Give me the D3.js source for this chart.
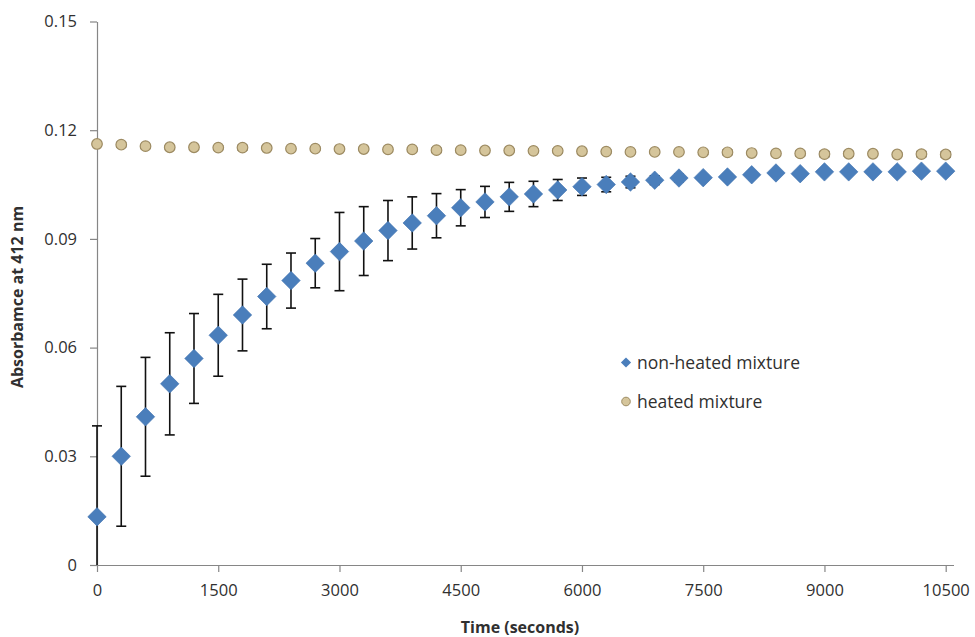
<!DOCTYPE html>
<html>
<head>
<meta charset="utf-8">
<script src="https://cdn.jsdelivr.net/npm/d3@7"></script>
<style>
  html, body { margin: 0; padding: 0; background: #fff; }
  svg { display: block; }
  text { font-family: "Open Sans", "Noto Sans", sans-serif; fill: #303030; }
</style>
</head>
<body>
<svg id="chart" width="975" height="637"></svg>
<script>
// Sampling times (seconds)
const times = [0, 300, 600, 900, 1200, 1500, 1800, 2100, 2400, 2700, 3000, 3300,
  3600, 3900, 4200, 4500, 4800, 5100, 5400, 5700, 6000, 6300, 6600, 6900,
  7200, 7500, 7800, 8100, 8400, 8700, 9000, 9300, 9600, 9900, 10200, 10500];

// Absorbance at 412 nm, non-heated mixture (mean and SD)
const nonHeated = [0.0133, 0.0300, 0.0409, 0.0500, 0.0570, 0.0634, 0.0690, 0.0741,
  0.0785, 0.0833, 0.0865, 0.0894, 0.0923, 0.0944, 0.0964, 0.0986, 0.1002, 0.1016,
  0.1024, 0.1035, 0.1044, 0.1050, 0.1057, 0.1062, 0.1068, 0.1069, 0.1071, 0.1077,
  0.1082, 0.1080, 0.1085, 0.1085, 0.1085, 0.1085, 0.1087, 0.1087];
const nonHeatedErr = [0.0251, 0.0193, 0.0164, 0.0141, 0.0124, 0.0113, 0.0099, 0.0089,
  0.0076, 0.0068, 0.0108, 0.0095, 0.0083, 0.0072, 0.0061, 0.0050, 0.0043, 0.0040,
  0.0035, 0.0029, 0.0024, 0.0020, 0.0016, 0.0012, 0.0010, 0.0008, 0.0008, 0.0007,
  0.0007, 0.0006, 0.0006, 0.0006, 0.0005, 0.0005, 0.0005, 0.0005];

// Absorbance at 412 nm, heated mixture (mean and SD)
const heated = [0.1162, 0.1160, 0.1156, 0.1153, 0.1153, 0.1152, 0.1152, 0.1151,
  0.1149, 0.1149, 0.1148, 0.1148, 0.1147, 0.1147, 0.1145, 0.1145, 0.1144, 0.1144,
  0.1143, 0.1143, 0.1142, 0.1141, 0.1140, 0.1140, 0.1140, 0.1139, 0.1139, 0.1137,
  0.1136, 0.1136, 0.1134, 0.1135, 0.1135, 0.1133, 0.1134, 0.1133];
const heatedErr = [0.0004, 0.0006, 0.0004, 0.0004, 0.0004, 0.0005, 0.0006, 0.0004,
  0.0004, 0.0004, 0.0004, 0.0004, 0.0004, 0.0004, 0.0005, 0.0004, 0.0004, 0.0004,
  0.0004, 0.0005, 0.0004, 0.0004, 0.0004, 0.0004, 0.0004, 0.0005, 0.0006, 0.0004,
  0.0004, 0.0006, 0.0007, 0.0006, 0.0004, 0.0004, 0.0007, 0.0007];

const xTicks = [0, 1500, 3000, 4500, 6000, 7500, 9000, 10500];
const yTicks = [0, 0.03, 0.06, 0.09, 0.12, 0.15];

const seriesNames = ["non-heated mixture", "heated mixture"];

const blue = "#4a7ebb", blueEdge = "#3f72b0";
const tan = "#d5c59b", tanEdge = "#9d8b62";
const axisColor = "#868686";

const svg = d3.select("#chart");

const x = d3.scaleLinear().domain([0, 10500]).range([97, 945.7]);
const y = d3.scaleLinear().domain([0, 0.15]).range([565, 21.5]);

// Error bars stop at the horizontal axis
svg.append("defs").append("clipPath").attr("id", "barClip")
  .append("rect").attr("x", 0).attr("y", 0).attr("width", 975).attr("height", 565);

// Y axis
const yAxis = svg.append("g").attr("transform", "translate(97,0)")
  .call(d3.axisLeft(y).tickValues(yTicks).tickFormat(d => d === 0 ? "0" : d3.format(".2f")(d))
    .tickSize(7).tickSizeOuter(0).tickPadding(13));
yAxis.select(".domain").attr("stroke", axisColor).attr("stroke-width", 1.2);
yAxis.selectAll(".tick line").attr("stroke", axisColor).attr("stroke-width", 1.2);
yAxis.selectAll("text").style("font-size", "16.5px").attr("fill", "#303030");

// X axis
const xAxis = svg.append("g").attr("transform", "translate(0,565)")
  .call(d3.axisBottom(x).tickValues(xTicks).tickFormat(d3.format("d"))
    .tickSize(7).tickSizeOuter(0).tickPadding(12));
xAxis.select(".domain").attr("d", `M${x(0)},0.5H954`).attr("stroke", axisColor).attr("stroke-width", 1.2);
xAxis.selectAll(".tick line").attr("stroke", axisColor).attr("stroke-width", 1.2);
xAxis.selectAll("text").style("font-size", "16.5px").attr("fill", "#303030");

// Axis titles
svg.append("text").attr("x", 520).attr("y", 633).attr("text-anchor", "middle")
  .style("font-size", "16px").style("font-weight", "bold").text("Time (seconds)");
svg.append("text").attr("transform", "translate(23,297) rotate(-90)")
  .attr("text-anchor", "middle")
  .style("font-size", "16px").style("font-weight", "bold").text("Absorbamce at 412 nm");

const barLayer = svg.append("g").attr("clip-path", "url(#barClip)");
const markLayer = svg.append("g");

function errorBars(g, vals, errs) {
  const cap = 5;
  const bars = g.append("g").selectAll("g").data(times).join("g");
  bars.append("line")
    .attr("x1", (d) => x(d)).attr("x2", (d) => x(d))
    .attr("y1", (d, i) => y(vals[i] + errs[i])).attr("y2", (d, i) => y(vals[i] - errs[i]))
    .attr("stroke", "#111").attr("stroke-width", 1.6);
  bars.append("line")
    .attr("x1", (d) => x(d) - cap).attr("x2", (d) => x(d) + cap)
    .attr("y1", (d, i) => y(vals[i] + errs[i])).attr("y2", (d, i) => y(vals[i] + errs[i]))
    .attr("stroke", "#111").attr("stroke-width", 1.6);
  bars.append("line")
    .attr("x1", (d) => x(d) - cap).attr("x2", (d) => x(d) + cap)
    .attr("y1", (d, i) => y(vals[i] - errs[i])).attr("y2", (d, i) => y(vals[i] - errs[i]))
    .attr("stroke", "#111").attr("stroke-width", 1.6);
}

const diamond = d3.symbol().type(d3.symbolSquare).size(170)();
const smallDiamond = d3.symbol().type(d3.symbolSquare).size(52)();

// Heated series
errorBars(barLayer, heated, heatedErr);
const heatedMarks = markLayer.append("g");
heatedMarks.selectAll("circle").data(times).join("circle")
  .attr("cx", d => x(d)).attr("cy", (d, i) => y(heated[i])).attr("r", 5.3)
  .attr("fill", tan).attr("stroke", tanEdge).attr("stroke-width", 1.2);

// Non-heated series: bars above heated circles, diamonds on top
const nhBars = svg.append("g").attr("clip-path", "url(#barClip)");
errorBars(nhBars, nonHeated, nonHeatedErr);
svg.append("g").selectAll("path").data(times).join("path")
  .attr("d", diamond)
  .attr("transform", (d, i) => `translate(${x(d)},${y(nonHeated[i])}) rotate(45)`)
  .attr("fill", blue).attr("stroke", blueEdge).attr("stroke-width", 0.6);

// Legend
const legend = svg.append("g").attr("transform", "translate(626,0)");
legend.append("path").attr("d", smallDiamond)
  .attr("transform", "translate(0,362.5) rotate(45)").attr("fill", blue);
legend.append("circle").attr("cx", 0).attr("cy", 401.5).attr("r", 4.3)
  .attr("fill", tan).attr("stroke", tanEdge).attr("stroke-width", 1);
legend.selectAll("text.lg").data(seriesNames).join("text").attr("class", "lg")
  .attr("x", 11).attr("y", (d, i) => i === 0 ? 362.5 : 401.5).attr("dy", "0.35em")
  .style("font-size", "17.5px").text(d => d);
</script>
</body>
</html>
